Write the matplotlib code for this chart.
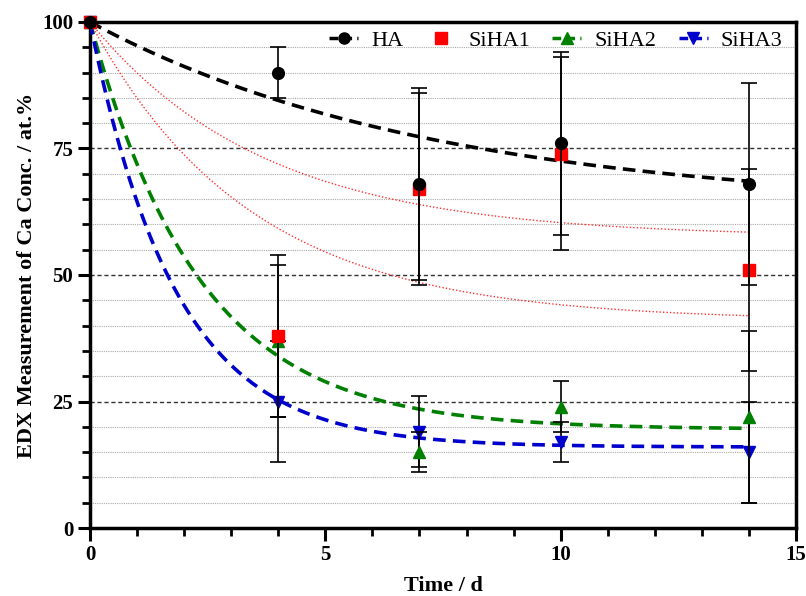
import numpy as np
import matplotlib
matplotlib.use("Agg")
import matplotlib.pyplot as plt
from matplotlib.lines import Line2D

plt.rcParams['font.family'] = ['Liberation Serif', 'DejaVu Serif']

# ---- data ----
time = [0, 4, 7, 10, 14]
ha = [100, 90, 68, 76, 68]
ha_err = [0, 5, 19, 18, 20]
siha1 = [100, 38, 67, 74, 51]
siha1_err = [0, 16, 19, 19, 20]
siha2 = [100, 37, 15, 24, 22]
siha2_err = [0, 15, 4, 5, 17]
siha3 = [100, 25, 19, 17, 15]
siha3_err = [0, 12, 7, 4, 10]

# exponential-decay fit parameters (plateau, amplitude, tau)
fit_ha = (63.0, 37.0, 7.37)
fit_siha2 = (19.5, 80.5, 2.33)
fit_siha3 = (16.0, 84.0, 1.82)
band_siha1_upper = (57.5, 42.5, 3.7)
band_siha1_lower = (41.0, 59.0, 3.4)

labels = ["HA", "SiHA1", "SiHA2", "SiHA3"]
colors = ["black", "#ff0000", "#008000", "#0000cc"]

fig = plt.figure(figsize=(8.06, 5.96), dpi=100)
ax = fig.add_axes([90/806, 68/596, 706/806, 506/596])

# grid lines
for yv in np.arange(5, 100, 5):
    if yv % 25 == 0:
        ax.axhline(yv, color='#333333', lw=1.0, ls=(0, (3, 2)), zorder=1)
    else:
        ax.axhline(yv, color='#aaaaaa', lw=0.8, ls=(0, (1, 1)), zorder=1)

tt = np.linspace(0, 14, 300)
def model(p):
    y0, a, tau = p
    return y0 + a * np.exp(-tt / tau)

ax.plot(tt, model(band_siha1_upper), color='#ff3030', lw=1.0, ls=(0, (1, 1.5)), zorder=2)
ax.plot(tt, model(band_siha1_lower), color='#ff3030', lw=1.0, ls=(0, (1, 1.5)), zorder=2)
ax.plot(tt, model(fit_ha), color='black', lw=2.6, ls=(0, (3.5, 2)), zorder=3)
ax.plot(tt, model(fit_siha2), color=colors[2], lw=2.6, ls=(0, (3.5, 2)), zorder=3)
ax.plot(tt, model(fit_siha3), color=colors[3], lw=2.6, ls=(0, (3.5, 2)), zorder=3)

ekw = dict(ecolor='black', elinewidth=1.2, capsize=6, capthick=1.2, ls='none')
series = [
    (siha3, siha3_err, 'v', 9, colors[3], 4),
    (siha2, siha2_err, '^', 9, colors[2], 5),
    (siha1, siha1_err, 's', 8, colors[1], 6),
    (ha, ha_err, 'o', 8.5, 'black', 7),
]
for vals, errs, mk, ms, col, z in series:
    cont = ax.errorbar(time, vals, yerr=errs, marker=mk, ms=ms, mfc=col, mec=col, zorder=z, **ekw)
    for artist in cont.get_children():
        artist.set_clip_on(False)

ax.set_xlim(0, 15)
ax.set_ylim(0, 100)
ax.set_xticks([0, 5, 10, 15])
ax.set_xticks(np.arange(0, 16, 1), minor=True)
ax.set_yticks([0, 25, 50, 75, 100])
ax.set_yticks(np.arange(0, 101, 5), minor=True)
ax.tick_params(which='major', direction='out', length=9, width=2.2, labelsize=15, pad=3)
ax.tick_params(which='minor', direction='out', length=6, width=2.0)
for lab in ax.get_xticklabels() + ax.get_yticklabels():
    lab.set_fontweight('bold')
for s in ax.spines.values():
    s.set_linewidth(2.5)
    s.set_zorder(2.5)

ax.set_xlabel("Time / d", fontsize=16, fontweight='bold', labelpad=8)
ax.set_ylabel("EDX Measurement of Ca Conc. / at.%", fontsize=16, fontweight='bold', labelpad=4)

handles = [
    Line2D([], [], color='black', ls=(0, (2.5, 1.5)), lw=2.5, marker='o', ms=8),
    Line2D([], [], color=colors[1], ls='none', marker='s', ms=8),
    Line2D([], [], color=colors[2], ls=(0, (2.5, 1.5)), lw=2.5, marker='^', ms=8),
    Line2D([], [], color=colors[3], ls=(0, (2.5, 1.5)), lw=2.5, marker='v', ms=8),
]
ax.legend(handles, labels, loc='upper right', ncol=4, frameon=False, fontsize=16,
          handlelength=1.3, columnspacing=1.0, handletextpad=0.6,
          bbox_to_anchor=(1.0, 1.01), borderaxespad=0.2)

fig.savefig("out.png", dpi=100)
